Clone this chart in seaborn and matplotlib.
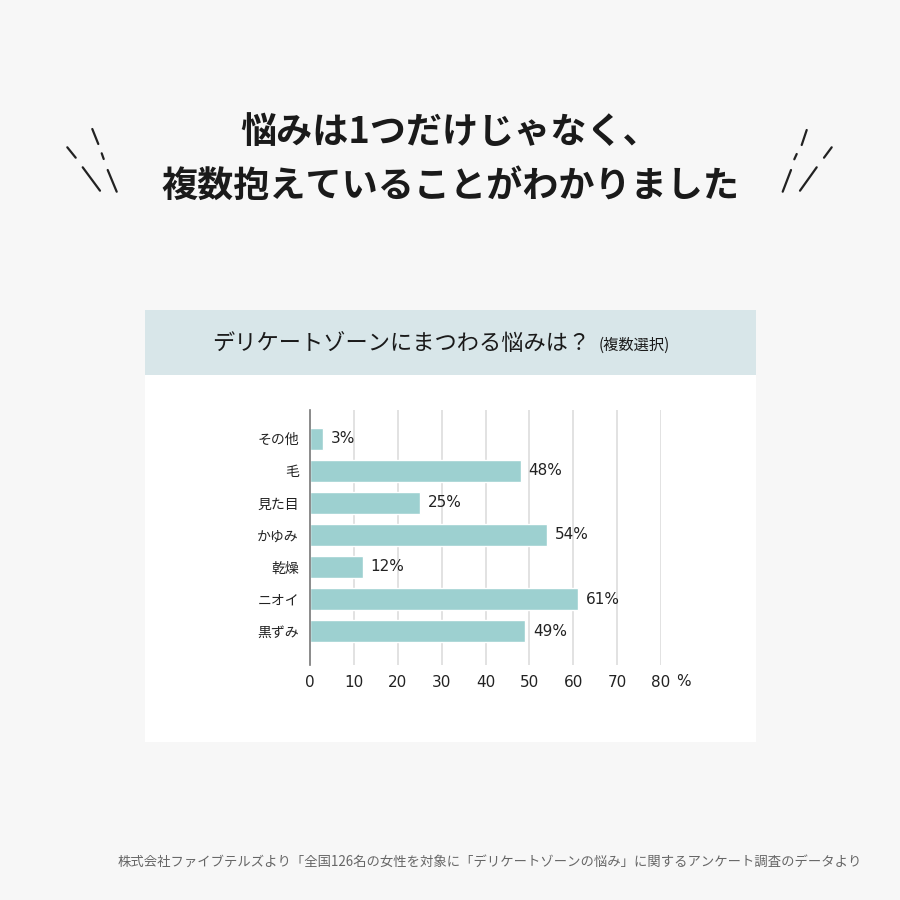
import matplotlib
matplotlib.use("Agg")
import matplotlib.pyplot as plt
import seaborn as sns
import pandas as pd
from matplotlib.patches import Rectangle
from matplotlib.lines import Line2D

categories = ["その他", "毛", "見た目", "かゆみ", "乾燥", "ニオイ", "黒ずみ"]
values = [3, 48, 25, 54, 12, 61, 49]
xticks = [0, 10, 20, 30, 40, 50, 60, 70, 80]

title_lines = ["悩みは1つだけじゃなく、", "複数抱えていることがわかりました"]
chart_title = "デリケートゾーンにまつわる悩みは？"
chart_sub = "(複数選択)"
footer = "株式会社ファイブテルズより「全国126名の女性を対象に「デリケートゾーンの悩み」に関するアンケート調査のデータより"

sns.set_theme(style="white")
plt.rcParams['font.family'] = ['Noto Sans CJK JP', 'DejaVu Sans']
NUMFONT = ['DejaVu Sans']

BG = "#f7f7f7"
BAR = "#9dd0d0"
HEAD = "#d8e6e9"
TXT = "#222222"

fig = plt.figure(figsize=(9, 9), dpi=100)
fig.patch.set_facecolor(BG)

W, H = 900.0, 900.0
def fx(x): return x / W
def fy(y): return 1 - y / H

# panel backgrounds
fig.patches.append(Rectangle((fx(145), fy(742)), (756 - 145) / W, (742 - 375) / H,
                             transform=fig.transFigure, facecolor="white", edgecolor="none", zorder=-2))
fig.patches.append(Rectangle((fx(145), fy(375)), (756 - 145) / W, (375 - 310) / H,
                             transform=fig.transFigure, facecolor=HEAD, edgecolor="none", zorder=-2))

# title
fig.text(0.5, fy(133), title_lines[0], ha="center", va="center", fontsize=26, fontweight="bold", color="#1a1a1a")
fig.text(0.5, fy(186), title_lines[1], ha="center", va="center", fontsize=26, fontweight="bold", color="#1a1a1a")

# decorative strokes
left_strokes = [((92.3, 129), (98.3, 144)), ((101.7, 153.3), (103.7, 159)), ((67.3, 147.3), (75.7, 157.7)),
                ((82.7, 167.3), (100, 190.7)), ((107.7, 170), (116.7, 191.7))]
right_strokes = [((806.7, 130), (801.7, 145)), ((796.7, 154), (794.3, 159.3)), ((831.7, 147.3), (824, 157.7)),
                 ((791, 170), (782.7, 191.7)), ((816.7, 167.3), (800, 190.7))]
for (a, b) in left_strokes + right_strokes:
    fig.lines.append(Line2D([fx(a[0]), fx(b[0])], [fy(a[1]), fy(b[1])], transform=fig.transFigure,
                            color="#222222", linewidth=1.6, solid_capstyle="round"))

# chart header
fig.text(fx(212), fy(343), chart_title, ha="left", va="center", fontsize=16, color="#1a1a1a")
fig.text(fx(599), fy(345), chart_sub, ha="left", va="center", fontsize=11, color="#1a1a1a")

# axes
ax = fig.add_axes([fx(310), fy(665), (661 - 310) / W, (665 - 410) / H])
ax.set_facecolor("none")
df = pd.DataFrame({"cat": categories, "val": values})
sns.barplot(data=df, y="cat", x="val", orient="h", color=BAR, saturation=1, width=0.69, ax=ax, zorder=3)
ax.set_xlim(0, 80)
ax.set_ylim(len(categories) - 1 + 1.06, -0.9)
ax.set_xticks(xticks)
ax.set_xticklabels([str(t) for t in xticks], fontsize=11, color=TXT, family=NUMFONT)
ax.tick_params(axis="x", length=0, pad=7)
ax.tick_params(axis="y", length=0, pad=8, labelsize=10, labelcolor=TXT)
ax.set_xlabel("")
ax.set_ylabel("")
for s in ["top", "right", "bottom"]:
    ax.spines[s].set_visible(False)
ax.spines["left"].set_color("#777777")
ax.spines["left"].set_linewidth(1.2)
ax.spines["left"].set_zorder(4)
for t in xticks[1:]:
    ax.axvline(t, color="#dddddd", linewidth=1.2, zorder=1)

for i, v in enumerate(values):
    ax.text(v + 1.8, i, f"{v}%", va="center", ha="left", fontsize=11, color=TXT, family=NUMFONT)

fig.text(fx(676), fy(681), "%", ha="left", va="center", fontsize=11, color=TXT, family=NUMFONT)

fig.text(fx(490), fy(862), footer, ha="center", va="center", fontsize=9.6, color="#666666")

fig.savefig("out.png", dpi=100, facecolor=BG)
